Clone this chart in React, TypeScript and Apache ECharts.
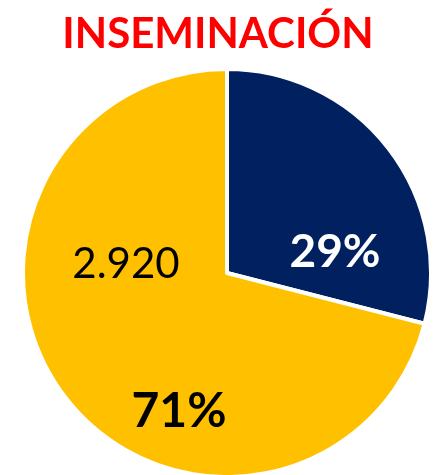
import React, { useEffect, useRef } from "react";
import * as echarts from "echarts";

const categories = ["Navy", "Gold"];
const values = [1193, 2920];
const colors = ["#002060", "#FFC000"];
const titleText = "INSEMINACIÓN";

export default function App() {
  const ref = useRef<HTMLDivElement>(null);
  useEffect(() => {
    if (!ref.current) return;
    const chart = echarts.init(ref.current, null, { renderer: "svg" });
    const total = values.reduce((a, b) => a + b, 0);
    const pct = values.map((v) => Math.round((v / total) * 100) + "%");
    const fmt = (v: number) => v.toLocaleString("de-DE");
    const font = "Lato, 'Open Sans', sans-serif";
    chart.setOption({
      animation: false,
      title: {
        text: titleText,
        left: "center",
        top: 6,
        textStyle: { fontFamily: font, fontWeight: "bold", fontSize: 42, color: "#FF0000" },
      },
      series: [
        {
          type: "pie",
          center: [227, 273],
          radius: [0, 204],
          startAngle: 90,
          clockwise: true,
          label: { show: false },
          labelLine: { show: false },
          itemStyle: { borderColor: "#ffffff", borderWidth: 4 },
          emphasis: { disabled: true },
          data: categories.map((c, i) => ({ name: c, value: values[i], itemStyle: { color: colors[i] } })),
        },
      ],
      graphic: [
        {
          type: "text",
          z: 100,
          x: 335,
          y: 249,
          style: { text: pct[0], fill: "#ffffff", font: `bold 46px ${font}`, align: "center", verticalAlign: "middle" },
        },
        {
          type: "text",
          z: 100,
          x: 179,
          y: 408,
          style: { text: pct[1], fill: "#000000", font: `bold 48px ${font}`, align: "center", verticalAlign: "middle" },
        },
        {
          type: "text",
          z: 100,
          x: 126,
          y: 262,
          style: { text: fmt(values[1]), fill: "#000000", font: `42px ${font}`, align: "center", verticalAlign: "middle" },
        },
      ],
    });
    return () => chart.dispose();
  }, []);
  return <div ref={ref} style={{ position: "fixed", left: 0, top: 0, width: 436, height: 475 }} />;
}
